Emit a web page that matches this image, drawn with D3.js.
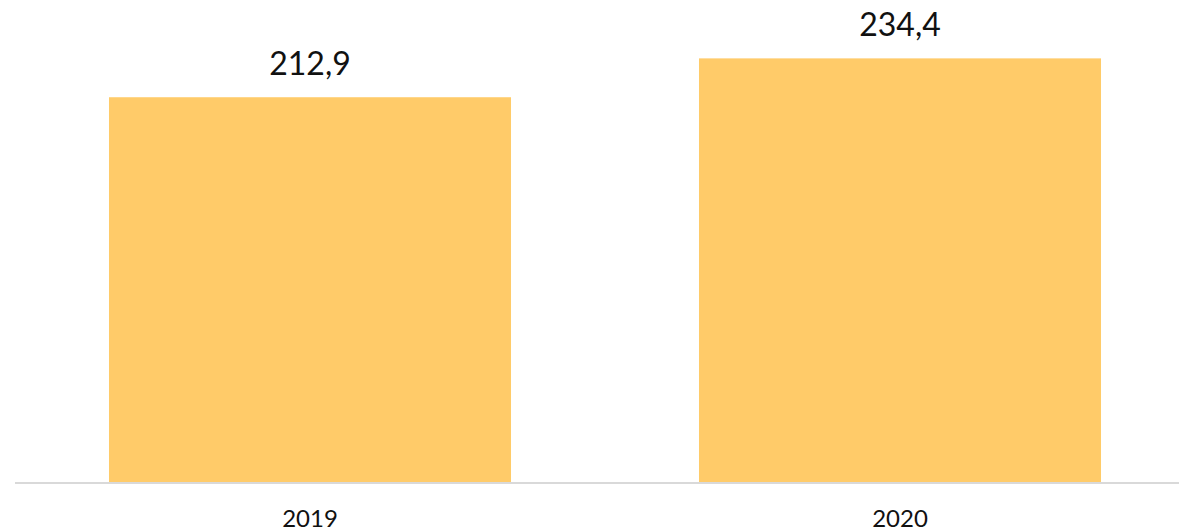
<!DOCTYPE html>
<html>
<head>
<meta charset="utf-8">
<script src="https://cdn.jsdelivr.net/npm/d3@7"></script>
<style>
  body { margin: 0; background: #fff; }
  text { font-family: Lato, "Open Sans", sans-serif; fill: #111; }
</style>
</head>
<body>
<svg width="1179" height="531"></svg>
<script>
var years = ["2019", "2020"];
var values = [212.9, 234.4];

var svg = d3.select("svg"),
    width = +svg.attr("width"),
    height = +svg.attr("height"),
    base = 482;

// each category gets an equal slot, bar sits in the middle
var x = d3.scaleBand()
    .domain(years)
    .range([15, 1195])
    .paddingInner(0.3186)
    .paddingOuter(0.1593);

var y = d3.scaleLinear()
    .domain([0, 266.7])
    .range([base, 0]);

var fmt = function(v) { return d3.format(".1f")(v).replace(".", ","); };

svg.selectAll(".bar")
    .data(values)
    .enter().append("rect")
      .attr("class", "bar")
      .attr("x", function(d, i) { return x(years[i]); })
      .attr("y", function(d) { return y(d); })
      .attr("width", x.bandwidth())
      .attr("height", function(d) { return base - y(d); })
      .attr("fill", "#FFCB69");

// axis line
svg.append("line")
    .attr("x1", 15)
    .attr("x2", width)
    .attr("y1", base + 1)
    .attr("y2", base + 1)
    .attr("stroke", "#D9D9D9")
    .attr("stroke-width", 2);

svg.selectAll(".val")
    .data(values)
    .enter().append("text")
      .attr("class", "val")
      .attr("x", function(d, i) { return x(years[i]) + x.bandwidth() / 2; })
      .attr("y", function(d) { return y(d) - 22; })
      .attr("text-anchor", "middle")
      .style("font-size", "32px")
      .text(fmt);

svg.selectAll(".cat")
    .data(years)
    .enter().append("text")
      .attr("class", "cat")
      .attr("x", function(d) { return x(d) + x.bandwidth() / 2; })
      .attr("y", 527)
      .attr("text-anchor", "middle")
      .style("font-size", "24px")
      .text(function(d) { return d; });
</script>
</body>
</html>
